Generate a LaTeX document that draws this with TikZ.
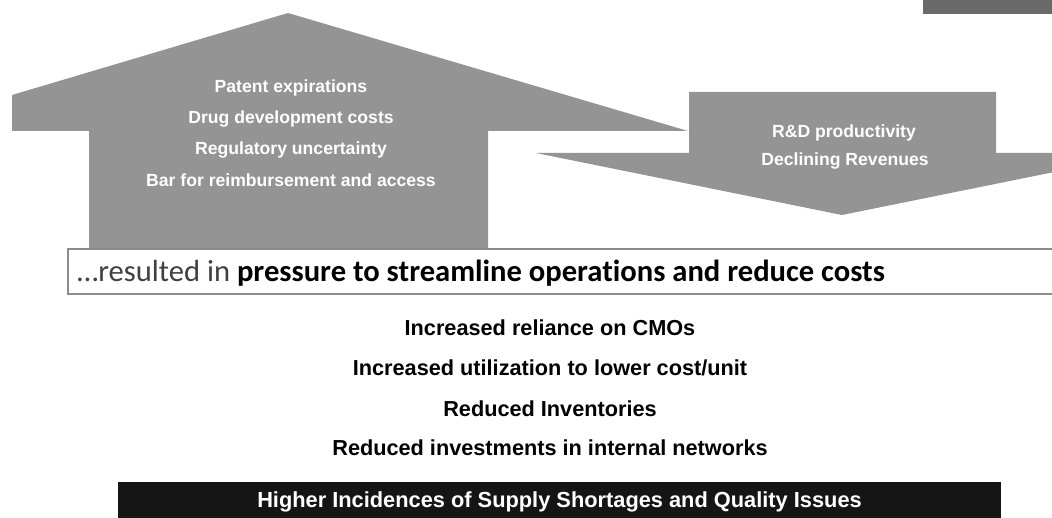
\documentclass[tikz,border=0pt]{standalone}
\usepackage{fontspec}
\setmainfont{Liberation Sans}
\newfontfamily\calibrifont[Ligatures=NoCommon]{Carlito}
\definecolor{arrowgray}{HTML}{949494}
\definecolor{darkbar}{HTML}{151515}
\definecolor{cornergray}{HTML}{6A6A6A}
\definecolor{boxline}{HTML}{8C8C8C}
\definecolor{softblack}{HTML}{404040}
\begin{document}
\begin{tikzpicture}[x=1pt,y=-1pt,
  arrowshape/.style={fill=arrowgray,draw=none},
  wtext/.style={text=white,font=\fontsize{17.6}{20}\selectfont\bfseries,anchor=base,inner sep=0pt},
  btext/.style={text=black,font=\fontsize{21.7}{24}\selectfont\bfseries,anchor=base,inner sep=0pt},
  bartext/.style={text=white,font=\fontsize{21.8}{24}\selectfont\bfseries,anchor=base,inner sep=0pt}]
\useasboundingbox (0,0) rectangle (1052,518);
% top-right corner block
\fill[cornergray] (923,0) rectangle (1052,14);
% up arrow
\path[arrowshape] (12,95) -- (288,13) -- (688,131) -- (488,131) -- (488,248) -- (89,248) -- (89,131) -- (12,131) -- cycle;
% down arrow
\begin{scope}
\clip (0,0) rectangle (1052,518);
\path[arrowshape] (689,92) -- (996,92) -- (996,153) -- (1148,153) -- (842,215) -- (536,153) -- (689,153) -- cycle;
\end{scope}
% up arrow texts
\node[wtext] (u1) at (291,93) {Patent expirations};
\node[wtext] (u2) at (291,124) {Drug development costs};
\node[wtext] (u3) at (291,155) {Regulatory uncertainty};
\node[wtext] (u4) at (291,187) {Bar for reimbursement and access};
% down arrow texts
\node[wtext] (d1) at (844,138) {R\&D productivity};
\node[wtext] (d2) at (845,166) {Declining Revenues};
% result box
\fill[white] (68,249) rectangle (1060,294);
\draw[boxline,line width=1.3pt] (1060,249) -- (68,249) -- (68,294) -- (1060,294);
\node[anchor=base west,inner sep=0pt,font=\calibrifont\fontsize{30.6}{34}\selectfont] (res) at (77,282)
  {\textcolor{softblack}{…resulted in} \textbf{pressure to streamline operations and reduce costs}};
% consequences
\node[btext] (c1) at (550,336) {Increased reliance on CMOs};
\node[btext] (c2) at (550,376) {Increased utilization to lower cost/unit};
\node[btext] (c3) at (550,416) {Reduced Inventories};
\node[btext] (c4) at (550,455) {Reduced investments in internal networks};
% bottom bar
\fill[darkbar] (118,482) rectangle (1001,518);
\node[bartext] (bar) at (559.5,507) {Higher Incidences of Supply Shortages and Quality Issues};
\end{tikzpicture}
\end{document}
